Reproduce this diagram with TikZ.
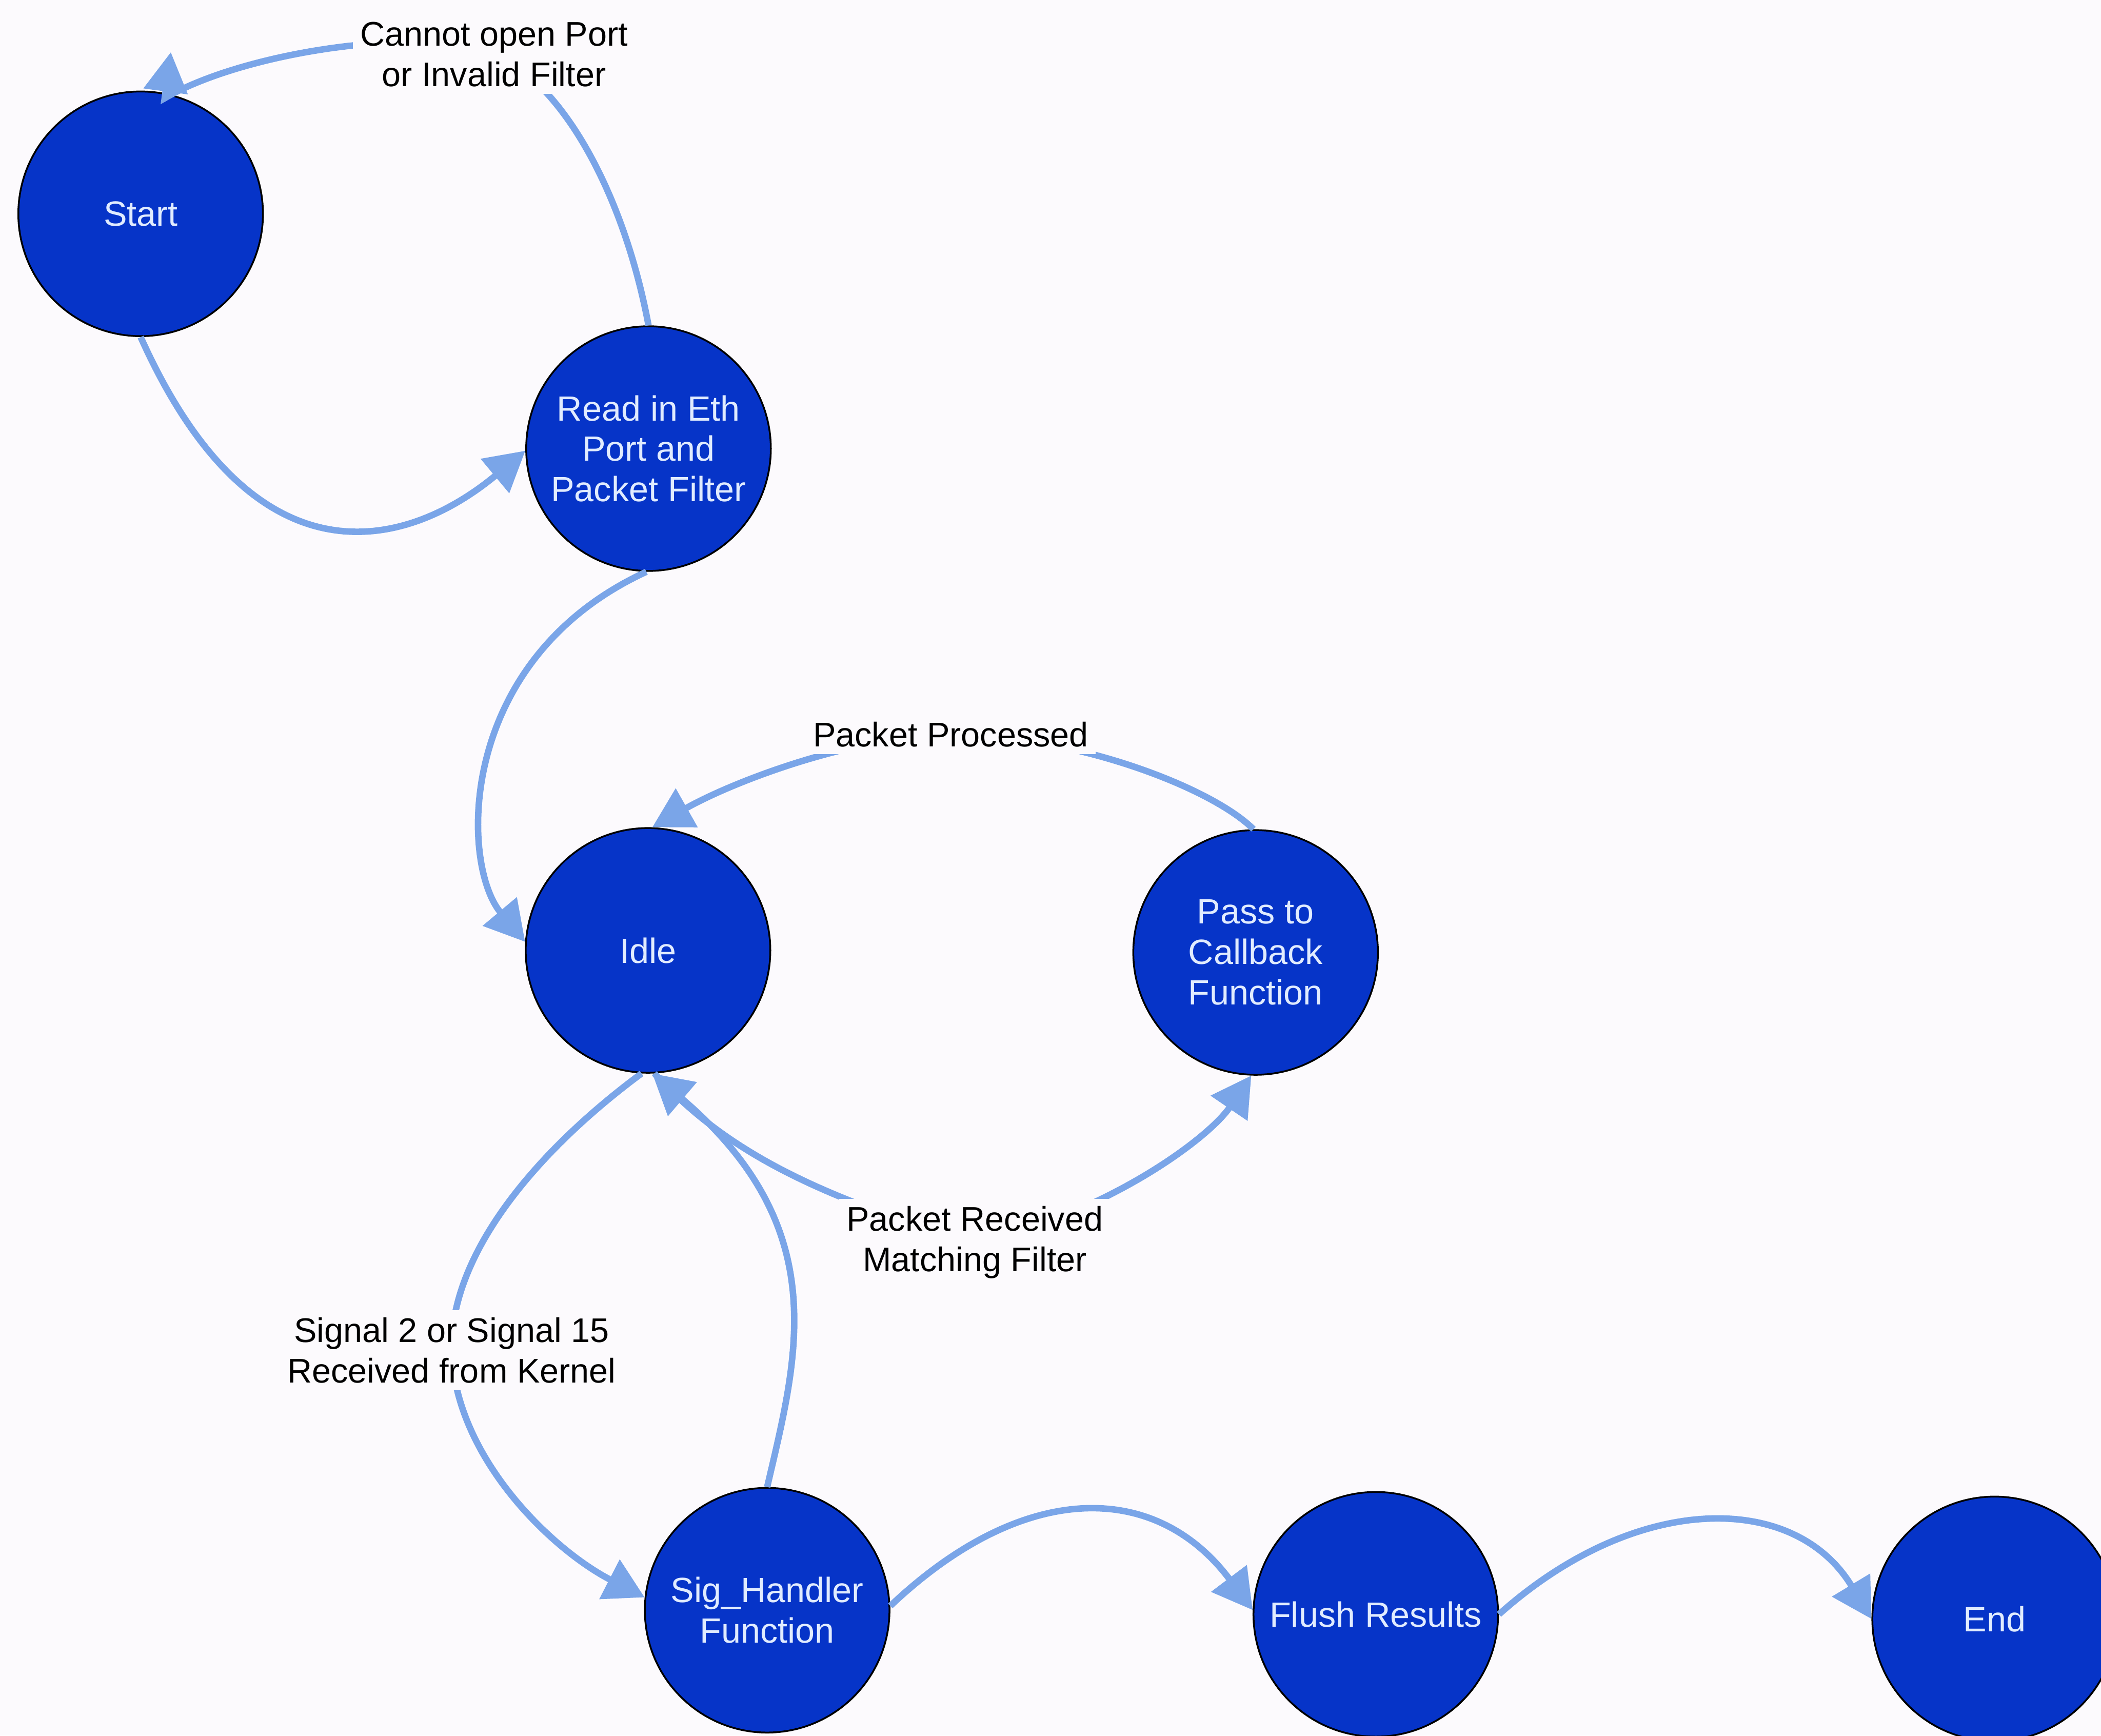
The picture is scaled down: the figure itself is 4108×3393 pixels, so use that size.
\documentclass[tikz,border=0pt]{standalone}
\usepackage{fontspec}
\setmainfont{Liberation Sans}
\usetikzlibrary{arrows.meta}

\definecolor{pagebg}{RGB}{252,250,253}
\definecolor{statefill}{RGB}{6,52,200}
\definecolor{edgeblue}{RGB}{122,165,232}
\definecolor{statetext}{RGB}{225,236,255}

\begin{document}
\begin{tikzpicture}[x=0.01cm, y=-0.01cm,
  stateball/.style={circle, draw=black, line width=1pt, fill=statefill,
    minimum size=4.78cm, inner sep=0pt, align=center, text=statetext,
    font=\fontsize{19.5pt}{22.5pt}\selectfont},
  flow/.style={draw=edgeblue, line width=3.6pt,
    -{Triangle[length=22pt,width=24pt]}},
  condlabel/.style={fill=pagebg, inner sep=4pt, align=center, text=black,
    font=\fontsize{19pt}{22.5pt}\selectfont}]

  % page
  \useasboundingbox (0,0) rectangle (4108,3393);
  \fill[pagebg] (0,0) rectangle (4108,3393);

  % states
  \node[stateball] (start) at (275,418)   {Start};
  \node[stateball] (read)  at (1268,877)  {Read in Eth\\Port and\\Packet Filter};
  \node[stateball] (idle)  at (1267,1858) {Idle};
  \node[stateball] (pass)  at (2455,1862) {Pass to\\Callback\\Function};
  \node[stateball] (sig)   at (1500,3148) {Sig\_Handler\\Function};
  \node[stateball] (flush) at (2690,3156) {Flush Results};
  \node[stateball] (end)   at (3900,3165) {End};

  % where the transition conditions sit
  \coordinate (failpos) at (966,106);
  \coordinate (procpos) at (1859,1436);
  \coordinate (recvpos) at (1906,2429);
  \coordinate (sigpos)  at (883,2640);
  \coordinate (failtip) at (334,102);

  % transitions
  \draw[flow] (start.-90) .. controls (500,1160) and (800,1070) .. (read.181);

  \draw[flow] (read.90) .. controls (1220,380) and (1100,160) .. (failpos)
    .. controls (830,50) and (480,100) .. (322,192) -- (failtip);

  \draw[flow] (read.-91) .. controls (890,1290) and (900,1690) .. (idle.176);

  \draw[flow] (pass.91) .. controls (2370,1540) and (2100,1436) .. (procpos)
    .. controls (1660,1440) and (1430,1530) .. (idle.88);

  \draw[flow] (idle.-87) .. controls (1400,2230) and (1560,2330) .. (recvpos)
    .. controls (2150,2380) and (2360,2230) .. (pass.-92);

  \draw[flow] (sig.90) .. controls (1560,2650) and (1630,2400) .. (idle.-88);

  \draw[flow] (idle.-93) .. controls (1050,2250) and (880,2450) .. (sigpos)
    .. controls (890,2850) and (1080,3030) .. (sig.174);

  \draw[flow] (sig.2) .. controls (2000,2894) and (2259,2894) .. (flush.178);

  \draw[flow] (flush.0) .. controls (3199,2916) and (3509,2916) .. (end.180);

  % transition conditions
  \node[condlabel] (failtxt) at (failpos) {Cannot open Port\\or Invalid Filter};
  \node[condlabel] (proctxt) at (procpos) {Packet Processed};
  \node[condlabel] (recvtxt) at (recvpos) {Packet Received\\Matching Filter};
  \node[condlabel] (sigtxt)  at (sigpos)  {Signal 2 or Signal 15\\Received from Kernel};
\end{tikzpicture}
\end{document}
